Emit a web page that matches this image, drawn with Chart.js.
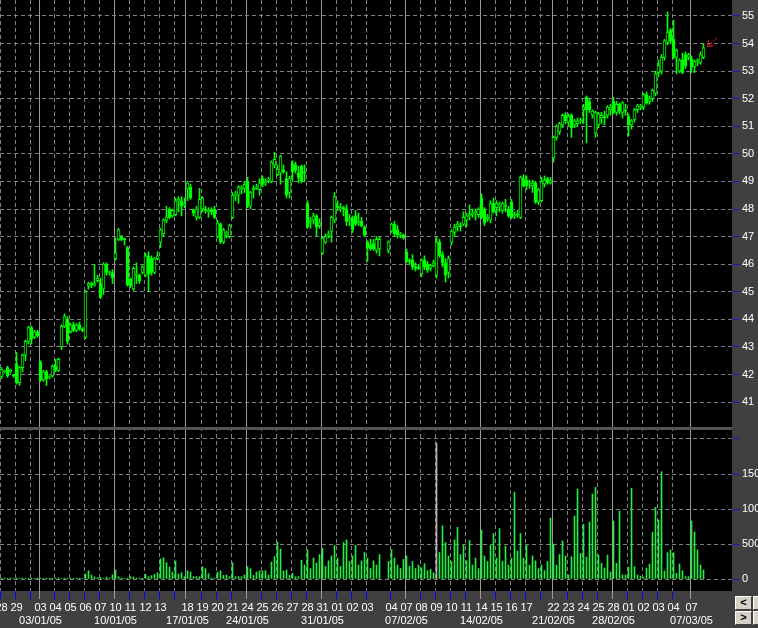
<!DOCTYPE html>
<html>
<head>
<meta charset="utf-8">
<script src="https://cdn.jsdelivr.net/npm/chart.js@4.4.1/dist/chart.umd.min.js"></script>
<style>
  html, body { margin: 0; padding: 0; background: #404040; overflow: hidden; }
  #wrap { position: relative; width: 758px; height: 628px; }
  canvas { display: block; }
  .btn { position: absolute; width: 17px; height: 14px; box-sizing: border-box; background: #d4d0c8;
         border: 1px solid; border-color: #fff #404040 #404040 #fff;
         font: bold 11px "Liberation Sans", Arial, sans-serif; color: #000; text-align: center; line-height: 11px; }
</style>
</head>
<body>
<div id="wrap">
  <canvas id="chart" width="758" height="628"></canvas>
  <div class="btn" style="left:735px;top:596px">&lt;</div>
  <div class="btn" style="left:735px;top:611px">&gt;</div>
  <div class="btn" style="left:753px;top:596px">+</div>
  <div class="btn" style="left:753px;top:611px">-</div>
</div>
<script>
// ─── Data ───────────────────────────────────────────────────────────────────
// trading days shown on the axis (28/12/04 .. 07/03/05)
const dayDates = ['28','29','30',
  '03','04','05','06','07', '10','11','12','13','14', '18','19','20','21',
  '24','25','26','27','28', '31','01','02','03','04', '07','08','09','10','11',
  '14','15','16','17','18', '22','23','24','25', '28','01','02','03','04', '07'];
const weekLabels = ['','','',
  '03/01/05','','','','', '10/01/05','','','','', '17/01/05','','','',
  '24/01/05','','','','', '31/01/05','','','','', '07/02/05','','','','',
  '14/02/05','','','','', '21/02/05','','','', '28/02/05','','','','', '07/03/05'];
const barsPerDay = [5,5,3, 5,5,5,5,5, 5,5,5,5,4, 5,5,5,5, 5,5,5,5,5, 5,5,5,8,5,
  5,5,5,5,5, 5,5,5,5,4, 5,5,5,5, 5,5,5,5,6, 5];
const emptySlots = 9;

// intraday bars, one row per day
const opens = [
  41.9,42.1,42.25,42.1,42.0,  42.4,41.7,42.25,42.7,43.2,  43.7,43.35,43.55,
  42.45,41.8,42.1,41.9,41.95,  42.3,42.15,43.0,43.75,44.0,  43.55,43.8,43.6,43.8,43.65,
  43.35,45.2,45.3,45.25,45.4,  45.3,45.1,46.0,45.7,45.7,
  46.2,46.9,47.0,46.92,46.6,  45.45,45.1,45.6,45.6,45.7,  45.6,46.3,46.2,45.7,46.2,
  46.8,47.1,47.6,48.0,47.75,  47.8,48.3,48.3,48.15,
  48.73,48.8,47.95,47.7,47.7,  48.0,48.0,47.9,47.95,48.0,  47.0,47.45,46.8,47.05,47.0,
  47.7,48.5,48.5,48.75,48.75,
  49.0,48.1,48.7,48.75,48.7,  49.1,48.95,49.05,49.0,49.6,  49.25,49.3,49.4,49.1,48.6,
  49.65,49.6,49.3,49.55,49.35,  48.2,47.55,47.6,47.75,47.4,
  46.4,46.8,47.05,47.2,47.6,  48.1,48.0,48.05,48.0,47.6,  47.65,47.75,47.5,47.55,47.35,
  46.8,46.7,46.75,46.5,46.55,null,null,46.5,  47.2,47.45,47.25,47.05,47.05,
  46.45,46.15,46.15,45.9,45.9,  45.65,46.15,46.0,45.85,45.95,  45.6,46.8,46.35,46.05,45.7,
  46.8,47.15,47.35,47.4,47.45,  47.6,47.75,47.8,47.85,47.8,
  48.4,48.0,47.65,47.6,48.2,  48.05,48.1,47.95,48.15,48.0,  48.25,47.75,47.8,47.7,49.1,
  49.05,48.9,48.85,48.95,48.25,  48.3,48.9,49.1,48.95,
  49.85,50.6,50.8,51.05,51.4,  51.15,51.4,51.05,51.1,51.2,  51.6,52.05,51.9,51.4,50.75,
  51.05,51.3,51.35,51.4,51.6,
  51.9,51.5,51.8,51.5,51.6,  51.35,51.05,51.25,51.6,51.7,  51.7,52.15,51.9,52.0,52.2,
  52.95,53.0,53.5,54.05,54.5,  54.15,53.5,53.0,53.4,53.6,53.5,
  53.45,53.15,53.35,53.3,53.5];
const highs = [
  42.25,42.15,42.3,42.2,42.0,  42.8,42.3,42.75,43.25,43.75,  43.75,43.6,43.6,
  42.5,42.15,42.15,41.95,42.35,  42.55,42.6,43.8,44.2,44.1,  43.85,43.9,43.85,43.9,43.7,
  45.05,45.35,45.35,46.0,45.6,  45.5,46.05,46.05,45.75,45.8,
  46.95,47.3,47.05,46.95,46.65,  45.5,45.9,46.05,45.65,45.95,  46.4,46.45,46.3,46.25,46.45,
  47.3,47.65,48.1,48.05,48.0,  48.4,48.45,48.45,48.4,
  49.0,48.9,48.0,48.1,48.75,  48.45,48.1,48.05,48.05,48.1,  47.6,47.5,47.3,47.2,47.45,
  48.6,48.65,48.85,48.85,49.0,
  49.15,48.65,48.85,48.9,49.1,  49.2,49.1,49.15,49.75,50.05,  49.6,49.95,49.6,49.35,49.2,
  49.75,49.7,49.55,49.6,49.6,  48.3,47.7,47.85,47.8,47.65,
  47.0,47.1,47.2,47.75,48.6,  48.3,48.2,48.1,48.15,47.8,  47.75,47.95,47.85,47.7,47.4,
  46.85,46.9,46.9,47.0,47.0,null,null,46.85,  47.5,47.55,47.4,47.15,47.1,
  46.55,46.2,46.35,46.05,46.0,  46.2,46.3,46.1,46.0,46.15,  47.0,46.9,46.45,46.2,46.3,
  47.25,47.45,47.55,47.5,47.9,  47.85,48.15,48.0,48.0,48.05,
  48.55,48.05,47.8,48.3,48.4,  48.3,48.25,48.25,48.35,48.1,  48.35,47.9,47.95,49.2,49.25,
  49.2,49.05,49.05,49.0,48.75,  49.15,49.2,49.15,49.15,
  50.65,51.05,51.15,51.45,51.5,  51.45,51.45,51.25,51.3,51.3,  51.8,52.1,52.0,51.6,51.55,
  51.5,51.5,51.55,51.75,51.8,
  52.05,51.9,51.85,51.9,51.8,  51.45,51.25,51.65,51.8,51.8,  52.2,52.25,52.1,52.35,53.0,
  53.4,53.6,54.15,55.15,54.55,  54.85,53.8,53.45,53.65,53.7,53.65,
  53.55,53.4,53.45,53.7,54.0];
const lows = [
  41.85,42.05,41.9,42.05,41.9,  41.65,41.6,42.1,42.5,43.1,  43.1,43.3,43.35,
  41.75,41.75,41.6,41.85,41.9,  42.1,42.1,42.9,43.7,43.1,  43.5,43.55,43.55,43.6,43.55,
  43.3,45.1,45.15,45.2,45.35,  44.75,44.9,45.6,45.6,45.3,
  46.15,46.85,46.85,46.7,45.2,  45.15,45.05,45.3,45.3,45.65,  45.55,45.0,45.6,45.65,46.15,
  46.6,47.0,47.5,47.65,47.7,  47.75,47.9,47.75,48.05,
  48.3,48.35,47.75,47.6,47.65,  47.9,47.85,47.7,47.8,47.65,  46.95,46.75,46.75,46.95,46.95,
  47.65,48.3,48.2,48.55,48.6,
  48.05,48.0,48.4,48.7,48.5,  48.8,48.85,48.95,48.95,49.5,  49.2,48.9,49.3,48.4,48.4,
  49.0,49.3,48.95,48.95,49.0,  47.3,47.3,47.45,47.0,47.3,
  46.35,46.75,46.95,46.8,47.5,  47.95,47.9,47.75,47.4,47.4,  47.15,47.4,47.4,47.35,47.0,
  46.1,46.5,46.5,46.4,46.3,null,null,46.4,  47.15,47.0,46.95,46.95,46.9,
  46.05,46.0,45.8,45.75,45.8,  45.55,45.8,45.7,45.75,45.9,  45.5,46.25,45.9,45.35,45.5,
  46.7,47.0,47.2,47.2,47.4,  47.35,47.6,47.7,47.6,47.7,
  47.65,47.4,47.55,47.5,47.85,  47.75,47.9,47.85,47.9,47.7,  47.65,47.65,47.7,47.65,48.8,
  48.7,48.75,48.6,48.2,48.15,  48.25,48.8,48.9,48.9,
  49.7,50.5,50.7,50.95,51.1,  51.0,50.6,50.95,51.0,51.1,  51.1,50.4,51.5,51.3,50.6,
  50.95,51.1,51.05,51.3,51.4,
  51.45,51.4,51.45,51.3,51.4,  50.65,50.9,51.15,51.5,51.6,  51.6,51.8,51.8,51.9,52.1,
  52.8,52.9,53.4,53.95,54.0,  53.45,52.9,52.95,52.9,53.1,53.4,
  52.95,52.95,53.2,53.25,53.45];
const closes = [
  42.2,42.1,41.95,42.15,41.95,  41.7,42.25,42.7,43.2,43.7,  43.3,43.55,43.4,
  41.8,42.1,41.85,41.9,42.3,  42.15,42.55,43.75,44.1,43.2,  43.8,43.6,43.8,43.65,43.6,
  45.0,45.3,45.25,45.3,45.5,  44.8,46.0,45.7,45.72,45.5,
  46.4,47.25,46.9,46.88,45.25,  45.2,45.85,45.62,45.4,45.9,  46.3,45.65,45.7,46.2,46.3,
  47.25,47.6,47.72,47.7,47.95,  48.3,48.35,48.1,48.2,
  48.95,48.4,47.85,48.0,48.35,  48.4,47.95,47.95,47.9,47.7,  47.5,46.8,47.25,47.15,47.4,
  48.5,48.55,48.8,48.8,48.9,
  48.1,48.6,48.75,48.8,48.95,  48.9,49.0,49.05,49.7,49.8,  49.45,49.9,49.35,48.5,49.1,
  49.35,49.4,49.15,49.0,49.3,  47.35,47.6,47.75,47.35,47.5,
  46.95,47.0,47.1,47.7,48.45,  48.05,48.05,48.0,47.55,47.65,  47.25,47.45,47.55,47.4,47.05,
  46.6,46.55,46.55,46.9,46.9,null,null,46.8,  47.45,47.1,47.05,47.1,46.95,
  46.1,46.1,45.9,45.85,45.85,  46.15,45.9,45.8,45.95,46.05,  46.8,46.3,46.05,45.6,46.2,
  47.2,47.35,47.45,47.35,47.7,  47.75,47.8,47.85,47.9,48.0,
  47.7,47.5,47.7,48.2,47.9,  48.2,48.15,48.2,48.1,47.75,  47.7,47.8,47.78,49.15,48.85,
  48.85,48.95,48.95,48.25,48.7,  49.0,49.05,48.95,49.05,
  50.6,51.0,51.1,51.4,51.2,  51.35,50.95,51.2,51.2,51.22,  51.7,51.6,51.6,51.55,51.5,
  51.45,51.4,51.3,51.7,51.7,
  51.5,51.8,51.55,51.85,51.55,  51.05,51.2,51.6,51.75,51.72,  52.15,51.85,52.0,52.3,52.9,
  53.2,53.5,54.1,54.4,54.1,  53.5,53.75,53.4,52.95,53.2,53.6,
  53.15,53.35,53.4,53.6,53.85];
// volume in thousands of shares
const volumes = [
  12,14,10,13,11,  15,12,14,10,13,  12,11,14,
  13,10,12,14,11,  12,15,11,13,12,  14,10,12,13,11,
  71,119,57,29,20,  24,10,29,14,57,
  129,33,14,10,12,  33,29,14,14,10,  67,33,48,67,90,
  286,305,233,171,100,  257,71,90,33,
  119,100,33,33,33,  176,148,76,14,14,  100,119,52,57,33,
  233,33,33,33,57,
  176,148,52,100,119,  114,119,57,243,319,  529,429,114,129,52,
  81,33,33,270,200,  420,150,300,230,350,
  440,180,260,330,480,  300,180,520,560,250,  330,480,200,260,380,
  300,150,260,200,350,null,null,250,  420,300,200,150,280,
  330,180,250,150,200,  160,220,120,140,90,  1943,380,760,520,330,
  250,560,740,350,480,  260,550,200,300,150,
  700,330,250,480,650,  300,720,250,470,200,  300,1240,400,650,300,
  480,200,330,260,150,  200,120,250,870,
  500,200,350,543,329,  60,319,900,1286,367,  781,314,814,1214,1310,
  343,224,157,343,100,
  829,224,971,57,57,  167,1295,176,57,43,  20,157,214,667,1024,
  843,1533,114,376,414,  376,81,214,119,33,33,
  829,671,414,200,129];
const priceTicks = [41,42,43,44,45,46,47,48,49,50,51,52,53,54,55];
const volumeTicks = [0,500,1000,1500,2000];

// ─── Slots ──────────────────────────────────────────────────────────────────
const dayStartSlot = {};
const slotDay = [];
barsPerDay.forEach((n, d) => {
  dayStartSlot[slotDay.length] = d;
  for (let k = 0; k < n; k++) slotDay.push(d);
});
for (let k = 0; k < emptySlots; k++) slotDay.push(-1);
const labels = slotDay.map((_, i) => String(i));

const GREEN = '#00ff00';
const VOL_GREEN = '#22ee44';
const VOL_PEAK = '#b8b8b8';   // the one off-scale spike is drawn lighter
const GRID = '#808080';
const FONT = { family: '"Liberation Sans", Arial, sans-serif', size: 11 };

const isWeek = i => dayStartSlot[i] !== undefined && weekLabels[dayStartSlot[i]] !== '';
const noPad = s => { s.paddingTop = 0; s.paddingBottom = 0; s.paddingLeft = 0; s.paddingRight = 0; };
const peakVolume = Math.max(...volumes.filter(v => v != null));

// ─── Plugins ────────────────────────────────────────────────────────────────
const background = {
  id: 'background',
  beforeDraw(chart) {
    const { ctx, chartArea: a } = chart;
    ctx.save();
    ctx.fillStyle = '#404040';
    ctx.fillRect(0, 0, chart.width, chart.height);
    ctx.fillStyle = '#000';
    ctx.fillRect(a.left, a.top, a.right - a.left, a.bottom - a.top);
    ctx.restore();
  },
};

const separator = {
  id: 'separator',
  afterDraw(chart) {
    const { ctx, chartArea: a } = chart;
    const y = chart.scales.y.bottom;
    ctx.save();
    ctx.fillStyle = '#555555';
    ctx.fillRect(a.left, y - 1, a.right - a.left, 3);
    ctx.restore();
  },
};

// small red marker pointing at the last bar
const lastMarker = {
  id: 'lastMarker',
  afterDatasetsDraw(chart) {
    const last = closes.length - 1;
    const x = chart.scales.x.getPixelForValue(last) + 4;
    const y = chart.scales.y.getPixelForValue(highs[last]) + 3;
    const ctx = chart.ctx;
    ctx.save();
    ctx.strokeStyle = '#ff2020';
    ctx.lineWidth = 1;
    ctx.setLineDash([2, 1]);
    ctx.beginPath();
    ctx.moveTo(x + 1, y - 1);
    ctx.lineTo(x + 10, y - 9);
    ctx.stroke();
    ctx.setLineDash([]);
    ctx.beginPath();
    ctx.moveTo(x + 1, y - 6);
    ctx.lineTo(x, y);
    ctx.lineTo(x + 6, y - 1);
    ctx.stroke();
    ctx.restore();
  },
};

// ─── Chart ──────────────────────────────────────────────────────────────────
new Chart(document.getElementById('chart'), {
  type: 'bar',
  data: {
    labels,
    datasets: [
      {
        label: 'body',
        data: labels.map((_, i) => opens[i] == null ? null : [opens[i], closes[i]]),
        backgroundColor: ctx => opens[ctx.dataIndex] > closes[ctx.dataIndex] ? GREEN : '#000',
        borderColor: GREEN,
        borderWidth: 1,
        borderSkipped: false,
        barThickness: 3,
        minBarLength: 1,
        grouped: false,
        yAxisID: 'y',
        order: 0,
      },
      {
        label: 'wick',
        data: labels.map((_, i) => highs[i] == null ? null : [lows[i], highs[i]]),
        backgroundColor: GREEN,
        barThickness: 1,
        grouped: false,
        yAxisID: 'y',
        order: 1,
      },
      {
        label: 'volume',
        data: labels.map((_, i) => volumes[i] == null ? null : volumes[i]),
        backgroundColor: ctx => volumes[ctx.dataIndex] === peakVolume ? VOL_PEAK : VOL_GREEN,
        barThickness: 1,
        grouped: false,
        yAxisID: 'yv',
        order: 2,
      },
    ],
  },
  options: {
    responsive: false,
    animation: false,
    devicePixelRatio: 1,
    layout: { padding: 0, autoPadding: false },
    plugins: { legend: { display: false }, tooltip: { enabled: false } },
    scales: {
      x: {
        type: 'category',
        offset: true,
        grid: {
          offset: true,
          color: ctx => dayStartSlot[ctx.index] === undefined ? 'rgba(0,0,0,0)' : (isWeek(ctx.index) ? '#9a9a9a' : GRID),
          tickColor: ctx => dayStartSlot[ctx.index] === undefined ? 'rgba(0,0,0,0)' : (isWeek(ctx.index) ? '#9a9a9a' : '#0000ff'),
          tickLength: 8,
        },
        border: { display: false, dash: ctx => isWeek(ctx.index) ? [] : [4, 3] },
        ticks: {
          autoSkip: false,
          maxRotation: 0,
          color: '#ffffff',
          font: FONT,
          padding: 2,
          callback: (value, index) => {
            const d = dayStartSlot[index];
            if (d === undefined) return '';
            return [barsPerDay[d] < 5 ? '' : dayDates[d], weekLabels[d]];
          },
        },
        afterFit: s => { s.height = 37; noPad(s); },
      },
      y: {
        position: 'right',
        stack: 'panes',
        stackWeight: 428,
        min: 40.06,
        max: 55.58,
        afterBuildTicks: s => { s.ticks = priceTicks.map(v => ({ value: v })); },
        afterFit: s => { s.width = 26; noPad(s); },
        grid: { color: GRID, tickColor: '#1818c8', tickLength: 8 },
        border: { display: false, dash: [4, 3] },
        ticks: { color: '#ffffff', font: FONT, padding: 2 },
      },
      yv: {
        position: 'right',
        stack: 'panes',
        stackWeight: 163,
        min: -171,
        max: 2157,
        afterBuildTicks: s => { s.ticks = volumeTicks.map(v => ({ value: v })); },
        afterFit: s => { s.width = 26; noPad(s); },
        grid: { color: GRID, tickColor: '#1818c8', tickLength: 8 },
        border: { display: false, dash: [4, 3] },
        ticks: {
          color: '#ffffff',
          font: FONT,
          padding: 2,
          callback: v => v === 2000 ? '' : String(v * 1000),
        },
      },
    },
  },
  plugins: [background, separator, lastMarker],
});
</script>
</body>
</html>
